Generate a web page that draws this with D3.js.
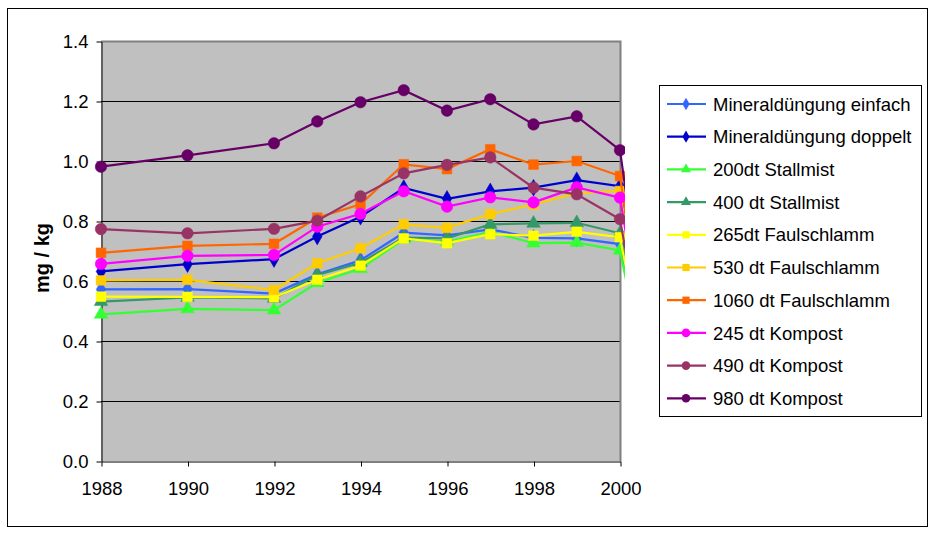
<!DOCTYPE html>
<html><head><meta charset="utf-8">
<script src="https://cdn.jsdelivr.net/npm/d3@7"></script>
<style>body{margin:0;background:#fff}svg{display:block;font-family:"Liberation Sans",Arial,sans-serif}</style>
</head><body><svg id="c" width="934" height="534"></svg>
<script>
// Years (2001 = blank cell plotted as zero, visible only as the drop at the right edge)
const years = [1988, 1990, 1992, 1993, 1994, 1995, 1996, 1997, 1998, 1999, 2000, 2001];
const seriesNames = ["Mineraldüngung einfach","Mineraldüngung doppelt","200dt Stallmist","400 dt Stallmist","265dt Faulschlamm","530 dt Faulschlamm","1060 dt Faulschlamm","245 dt Kompost","490 dt Kompost","980 dt Kompost"];
const seriesColors = ["#3366FF","#0000CC","#33FF33","#339966","#FFFF00","#FFCC00","#FF6600","#FF00FF","#993366","#660066"];
const seriesMarkers = ["diamond","diamond","triangle","triangle","square","square","square","circle","circle","circle"];
const mineralEinfach   = [0.572,0.573,0.558,0.622,0.669,0.761,0.752,0.772,0.744,0.742,0.723,0];
const mineralDoppelt   = [0.632,0.656,0.673,0.748,0.814,0.910,0.874,0.899,0.911,0.936,0.916,0];
const stall200         = [0.489,0.507,0.503,0.594,0.641,0.739,0.731,0.764,0.726,0.728,0.702,0];
const stall400         = [0.531,0.545,0.542,0.620,0.661,0.745,0.742,0.789,0.792,0.794,0.759,0];
const faul265          = [0.548,0.547,0.546,0.604,0.651,0.742,0.726,0.756,0.751,0.764,0.746,0];
const faul530          = [0.602,0.604,0.570,0.659,0.709,0.789,0.777,0.823,0.855,0.893,0.900,0];
const faul1060         = [0.694,0.717,0.724,0.811,0.856,0.989,0.973,1.039,0.988,1.000,0.950,0];
const kompost245       = [0.657,0.684,0.687,0.781,0.824,0.899,0.848,0.879,0.862,0.912,0.878,0];
const kompost490       = [0.773,0.759,0.774,0.801,0.882,0.959,0.987,1.012,0.911,0.889,0.806,0];
const kompost980       = [0.981,1.019,1.059,1.132,1.196,1.236,1.168,1.206,1.122,1.149,1.036,0];
const seriesValues = [mineralEinfach,mineralDoppelt,stall200,stall400,faul265,faul530,faul1060,kompost245,kompost490,kompost980];
const xTicks = [1988,1990,1992,1994,1996,1998,2000];
const yTicks = [0,0.2,0.4,0.6,0.8,1.0,1.2,1.4];
const yTitle = "mg / kg";

const svg = d3.select("#c");
svg.append("rect").attr("x",7.5).attr("y",8.5).attr("width",920).attr("height",518).attr("fill","#fff").attr("stroke","#000").attr("stroke-width",1);

const L=101, R=620, T=41, B=461;
const x = d3.scaleLinear().domain([1988,2000]).range([L,R]);
const y = d3.scaleLinear().domain([0,1.4]).range([B,T]);

svg.append("rect").attr("x",L).attr("y",T).attr("width",R-L).attr("height",B-T).attr("fill","#C0C0C0");
svg.append("g").selectAll("line").data(yTicks.filter(v=>v>0&&v<1.4)).join("line")
  .attr("x1",L).attr("x2",R).attr("y1",d=>Math.round(y(d))+0.5).attr("y2",d=>Math.round(y(d))+0.5)
  .attr("stroke","#000").attr("stroke-width",1);
svg.append("path").attr("d",`M${L},${T+0.5}H${R+0.5}V${B}`).attr("fill","none").attr("stroke","#808080").attr("stroke-width",2);

const yAxis = d3.axisLeft(y).tickValues(yTicks).tickFormat(d3.format(".1f")).tickSize(5).tickSizeOuter(0);
const gy = svg.append("g").attr("transform",`translate(${L+0.5},0.5)`).call(yAxis);
gy.select(".domain").attr("stroke","#000");
gy.selectAll("text").attr("font-size",18.5).attr("fill","#000").attr("x",-13).attr("dy","0.35em");
const xAxis = d3.axisBottom(x).tickValues(xTicks).tickFormat(d3.format("d")).tickSize(5).tickSizeOuter(0);
const gx = svg.append("g").attr("transform",`translate(0.5,${B+0.5})`).call(xAxis);
gx.selectAll("text").attr("font-size",18.5).attr("fill","#000").attr("y",20).attr("dy","0.71em");

svg.append("text").attr("transform",`translate(49,${258}) rotate(-90)`).attr("text-anchor","middle")
  .attr("font-size",20).attr("font-weight","bold").text(yTitle);

svg.append("clipPath").attr("id","clp").append("rect").attr("x",L-10).attr("y",0).attr("width",R-L+15).attr("height",534);

const sym = {diamond:d3.symbolDiamond, triangle:d3.symbolTriangle, square:d3.symbolSquare, circle:d3.symbolCircle};
const symSize = {diamond:80, triangle:80, square:95, circle:105};
const line = d3.line().x(d=>x(d[0])).y(d=>y(d[1]));
const plotG = svg.append("g").attr("clip-path","url(#clp)");
seriesValues.forEach((vals,i)=>{
  const pts = years.map((yr,j)=>[yr,vals[j]]);
  const g = plotG.append("g");
  g.append("path").attr("d",line(pts)).attr("fill","none").attr("stroke",seriesColors[i]).attr("stroke-width",2.2);
  g.selectAll("path.m").data(pts.filter(p=>p[0]<=2000)).join("path").attr("class","m")
    .attr("transform",p=>`translate(${x(p[0])},${y(p[1])})`)
    .attr("d",d3.symbol().type(sym[seriesMarkers[i]]).size(symSize[seriesMarkers[i]]))
    .attr("fill",seriesColors[i]).attr("stroke",seriesColors[i]).attr("stroke-width",0.5);
});

const lg = svg.append("g");
lg.append("rect").attr("x",659.5).attr("y",85.5).attr("width",262).attr("height",331).attr("fill","#fff").attr("stroke","#000");
seriesNames.forEach((n,i)=>{
  const cy = 104 + i*32.7;
  lg.append("line").attr("x1",667).attr("x2",706).attr("y1",cy).attr("y2",cy).attr("stroke",seriesColors[i]).attr("stroke-width",2.2);
  lg.append("path").attr("transform",`translate(686,${cy})`)
    .attr("d",d3.symbol().type(sym[seriesMarkers[i]]).size(symSize[seriesMarkers[i]]*0.55)).attr("fill",seriesColors[i]);
  lg.append("text").attr("x",713).attr("y",cy).attr("dy","0.36em").attr("font-size",18.5).attr("fill","#000").text(n);
});
</script></body></html>
